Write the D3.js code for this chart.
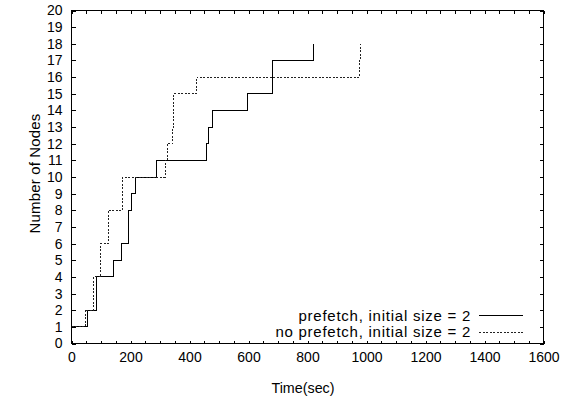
<!DOCTYPE html>
<html><head><meta charset="utf-8">
<script src="https://cdn.jsdelivr.net/npm/d3@7"></script>
<style>body{margin:0;background:#fff}svg{display:block}text{font-family:"Liberation Sans",Arial,sans-serif;font-size:14px;fill:#000}</style>
</head><body>
<svg id="c" width="568" height="400"></svg>
<script>
// step series: [time (sec), number of nodes]
const prefetchTimes = [0, 55, 84, 86, 142, 170, 193, 203, 216, 289, 458, 466, 477, 597, 681, 822];
const prefetchNodes = [1, 2, 3, 4, 5, 6, 8, 9, 10, 11, 12, 13, 14, 15, 17, 18];
const noPrefetchTimes = [0, 46, 76, 99, 125, 174, 317, 325, 344, 347, 424, 976, 980];
const noPrefetchNodes = [1, 2, 4, 6, 8, 10, 11, 12, 13, 15, 16, 17, 18];
const seriesNames = ["prefetch, initial size = 2", "no prefetch, initial size = 2"];
const xTickLabels = [0, 200, 400, 600, 800, 1000, 1200, 1400, 1600];
const yTickLabels = d3.range(0, 21);
const xTitle = "Time(sec)";
const yTitle = "Number of Nodes";

const L = 71.5, R = 543.5, T = 10.5, B = 343.5;
const x = d3.scaleLinear().domain([0, 1600]).range([L, R]);
const y = d3.scaleLinear().domain([0, 20]).range([B, T]);
const svg = d3.select("#c");

// axes with inward ticks
const xMinor = d3.range(0, 1601, 50);
svg.append("g").attr("transform", `translate(0,${B})`)
  .call(d3.axisBottom(x).tickValues(xMinor).tickSize(-3).tickFormat(""))
  .call(g => { g.select(".domain").remove(); g.selectAll("line").attr("stroke", "#000").attr("shape-rendering", "crispEdges"); });
svg.append("g").attr("transform", `translate(0,${T})`)
  .call(d3.axisTop(x).tickValues(xMinor).tickSize(-3).tickFormat(""))
  .call(g => { g.select(".domain").remove(); g.selectAll("line").attr("stroke", "#000").attr("shape-rendering", "crispEdges"); });
svg.append("g").attr("transform", `translate(0,${B})`)
  .call(d3.axisBottom(x).tickValues(xTickLabels).tickSize(0).tickPadding(9).tickFormat(d3.format("d")))
  .call(g => { g.select(".domain").remove(); g.selectAll("text").attr("font-size", 14).attr("font-family", null); });
svg.append("g").attr("transform", `translate(${L},0)`)
  .call(d3.axisLeft(y).tickValues(yTickLabels).tickSize(-4).tickPadding(9).tickFormat(d3.format("d")))
  .call(g => { g.select(".domain").remove(); g.selectAll("line").attr("stroke", "#000").attr("shape-rendering", "crispEdges"); g.selectAll("text").attr("font-size", 14).attr("font-family", null); });
svg.append("g").attr("transform", `translate(${R},0)`)
  .call(d3.axisRight(y).tickValues(yTickLabels).tickSize(-4).tickFormat(""))
  .call(g => { g.select(".domain").remove(); g.selectAll("line").attr("stroke", "#000").attr("shape-rendering", "crispEdges"); });

svg.append("rect").attr("x", L).attr("y", T).attr("width", R - L).attr("height", B - T)
  .attr("fill", "none").attr("stroke", "#000").attr("shape-rendering", "crispEdges");

// titles
svg.append("text").attr("x", 303).attr("y", 393).attr("text-anchor", "middle").style("font-size", "14.3px").text(xTitle);
svg.append("text").attr("transform", "translate(39.5,173.5) rotate(-90)").attr("text-anchor", "middle")
  .style("font-size", "15px").style("letter-spacing", "0.15px").text(yTitle);

// lines
const line = d3.line().x(d => x(d[0])).y(d => y(d[1])).curve(d3.curveStepAfter);
const s1 = prefetchTimes.map((t, i) => [t, prefetchNodes[i]]);
const s2 = noPrefetchTimes.map((t, i) => [t, noPrefetchNodes[i]]);
const styles = [{stroke: "#000", dash: null}, {stroke: "#222", dash: "2,1.5"}];
[s1, s2].forEach((s, i) => {
  svg.append("path").datum(s).attr("d", line).attr("fill", "none")
    .attr("stroke", styles[i].stroke).attr("stroke-width", 1)
    .attr("stroke-dasharray", styles[i].dash).attr("shape-rendering", "crispEdges");
});

// legend
seriesNames.forEach((n, i) => {
  const yy = 315.5 + i * 16.7;
  svg.append("text").attr("x", 471).attr("y", yy).attr("dy", "0.35em").attr("text-anchor", "end")
    .style("font-size", "15px").style("letter-spacing", "0.75px").text(n);
  svg.append("line").attr("x1", 479).attr("x2", 523).attr("y1", yy).attr("y2", yy)
    .attr("stroke", styles[i].stroke).attr("stroke-dasharray", styles[i].dash).attr("shape-rendering", "crispEdges");
});
</script>
</body></html>
